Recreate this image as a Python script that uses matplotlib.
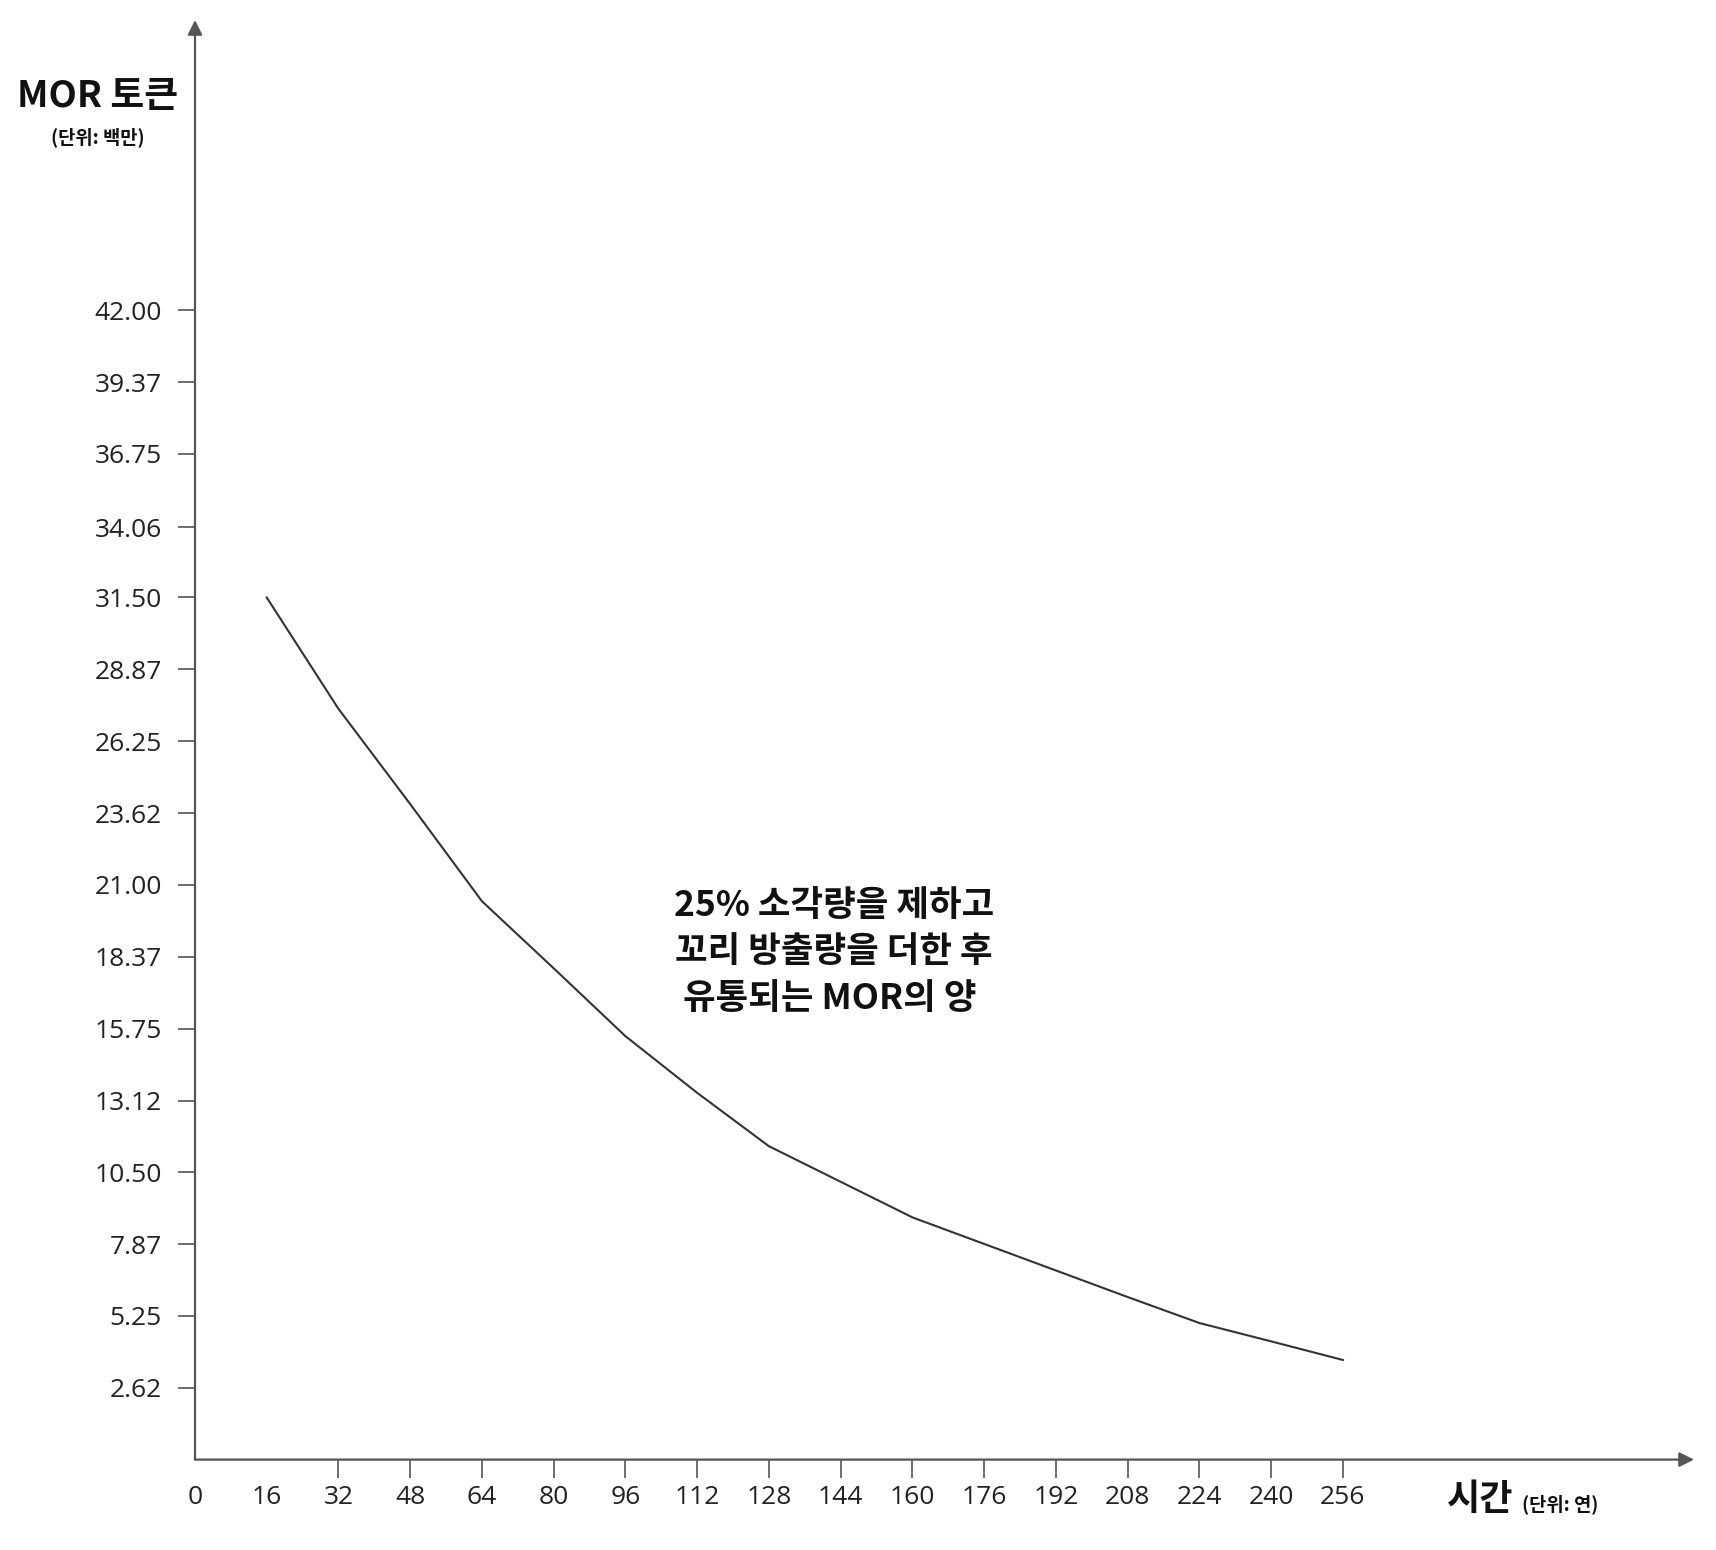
import matplotlib.pyplot as plt

plt.rcParams['font.family'] = ['Noto Sans CJK KR', 'DejaVu Sans']

#### datos
years = [16, 32, 48, 64, 80, 96, 112, 128, 144, 160, 176, 192, 208, 224, 240, 256]
mor = [31.5, 27.43, 23.95, 20.40, 17.95, 15.47, 13.40, 11.45, 10.15, 8.85,
       7.88, 6.91, 5.94, 4.99, 4.32, 3.64]

yticks = [2.62, 5.25, 7.87, 10.50, 13.12, 15.75, 18.37, 21.00, 23.62, 26.25,
          28.87, 31.50, 34.06, 36.75, 39.37, 42.00]
xticks = [0, 16, 32, 48, 64, 80, 96, 112, 128, 144, 160, 176, 192, 208, 224, 240, 256]

W, H = 1716, 1550
fig = plt.figure(figsize=(W / 100, H / 100), dpi=100)
ax = fig.add_axes([195 / W, (H - 1459.6) / H, (1694 - 195) / W, (1459.6 - 20) / H])

ax.plot(years, mor, color='#333333', lw=1.5)

ax.set_xlim(0, 334.3)
ax.set_ylim(0, 52.6)

for s in ax.spines.values():
    s.set_visible(False)

axis_col = '#555555'
for xy in [(1, 0), (0, 1)]:
    ax.annotate('', xy=xy, xytext=(0, 0), xycoords='axes fraction',
                arrowprops=dict(arrowstyle='-|>', color=axis_col, lw=1.6,
                                mutation_scale=22, shrinkA=0, shrinkB=0),
                annotation_clip=False)

ax.set_yticks(yticks)
ax.set_yticklabels([f'{v:.2f}' for v in yticks], fontfamily='Open Sans',
                   fontsize=19, color='#222222')
ax.set_xticks(xticks)
ax.set_xticklabels([str(v) for v in xticks], fontfamily='Open Sans',
                   fontsize=19, color='#222222')
ax.tick_params(axis='y', direction='out', length=12, width=1.2,
               color=axis_col, pad=12)
ax.tick_params(axis='x', direction='out', length=13, width=1.2,
               color=axis_col, pad=5)
for t in ax.xaxis.get_major_ticks()[:2]:
    t.tick1line.set_visible(False)

# titulos de ejes
fig.text(98 / W, 1 - 96 / H, 'MOR 토큰', fontsize=26.5, fontweight='bold',
         ha='center', va='center', color='#111111')
fig.text(98 / W, 1 - 137 / H, '(단위: 백만)', fontsize=13.5, fontweight='bold',
         ha='center', va='center', color='#111111')
fig.text(1447 / W, 1 - 1510 / H, '시간', fontsize=26, fontweight='bold',
         ha='left', va='baseline', color='#111111')
fig.text(1522 / W, 1 - 1510 / H, '(단위: 연)', fontsize=13.5, fontweight='bold',
         ha='left', va='baseline', color='#111111')

fig.text(834 / W, 1 - 952 / H, '25% 소각량을 제하고\n꼬리 방출량을 더한 후\n유통되는 MOR의 양 ',
         fontsize=25.5, fontweight='bold', ha='center', va='center',
         multialignment='center', linespacing=1.42, color='#111111')

fig.savefig('out.png', dpi=100, facecolor='white')
